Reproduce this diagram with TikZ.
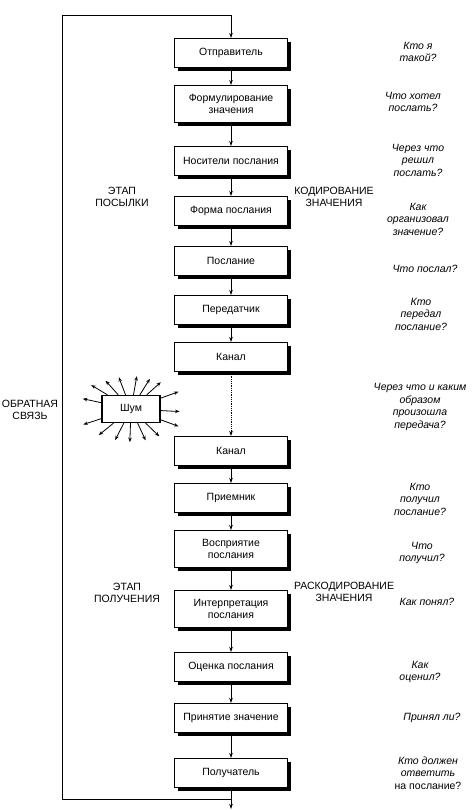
\documentclass[tikz,border=0pt]{standalone}
\usepackage{fontspec}
\setmainfont{Liberation Sans}
\usetikzlibrary{arrows.meta,shadows}
\tikzset{
  stage/.style ={rectangle, draw=black, line width=1pt, fill=white,
                 align=center, minimum width=113pt, minimum height=29pt,
                 font=\fontsize{10.5}{12.5}\selectfont,
                 drop shadow={shadow xshift=3.5pt, shadow yshift=-3.5pt,
                              fill=black, opacity=1}},
  tall/.style  ={stage, minimum height=37pt},
  noisebox/.style={rectangle, draw=black, line width=1.2pt, fill=white,
                 minimum width=58pt, minimum height=27pt,
                 font=\fontsize{10.5}{12.5}\selectfont},
  flow/.style  ={-{Stealth[length=5pt,width=3.5pt]}, line width=0.8pt},
  ray/.style   ={-{Stealth[length=4.5pt,width=3.5pt]}, line width=0.8pt},
  phase/.style ={align=center, font=\fontsize{10.5}{12}\selectfont},
  ask/.style   ={align=center, font=\fontsize{10.5}{12.5}\selectfont\itshape},
}
\begin{document}
\begin{tikzpicture}[x=1pt, y=1pt]
    \useasboundingbox (0,-810) rectangle (472,0);

    % main chain
    \node[stage] (s1)  at (231,-53)  {Отправитель};
    \node[tall]  (s2)  at (231,-104) {Формулирование\\значения};
    \node[stage] (s3)  at (231,-161) {Носители послания};
    \node[stage] (s4)  at (231,-211) {Форма послания};
    \node[stage] (s5)  at (231,-261) {Послание};
    \node[stage] (s6)  at (231,-310) {Передатчик};
    \node[stage] (s7)  at (231,-357) {Канал};
    \node[stage] (s8)  at (231,-451) {Канал};
    \node[stage] (s9)  at (231,-498) {Приемник};
    \node[tall]  (s10) at (231,-549) {Восприятие\\послания};
    \node[tall]  (s11) at (231,-609) {Интерпретация\\послания};
    \node[stage] (s12) at (231,-667) {Оценка послания};
    \node[stage] (s13) at (231,-718) {Принятие значение};
    \node[stage] (s14) at (231,-773) {Получатель};

    \foreach \a/\b in {s1/s2,s2/s3,s3/s4,s4/s5,s5/s6,s6/s7,
                       s8/s9,s9/s10,s10/s11,s11/s12,s12/s13,s13/s14}
        \draw[flow] (\a) -- (\b);
    \draw[flow, densely dotted] (s7) -- (s8);

    % feedback loop
    \coordinate (out)     at (231,-809);
    \coordinate (fbstart) at (231,-799);
    \coordinate (fbcorner) at (62,-15);
    \draw[flow] (s14) -- (out);
    \draw[flow] (fbstart) -| (fbcorner) -| (s1.north);

    % noise
    \node[noisebox] (noise) at (131,-409) {Шум};
    \foreach \a in {149,132,111,80,58,42,20,-3,-20,-44,-65,-92,-117,-141,-162,168}
        \draw[ray] (noise.\a) -- ++(\a:19pt);

    % phases
    \node[phase] (fbl)  at (30,-410)  {ОБРАТНАЯ\\СВЯЗЬ};
    \node[phase] (send) at (122,-197) {ЭТАП\\ПОСЫЛКИ};
    \node[phase] (enc)  at (334,-197) {КОДИРОВАНИЕ\\ЗНАЧЕНИЯ};
    \node[phase] (recv) at (127,-593) {ЭТАП\\ПОЛУЧЕНИЯ};
    \node[phase] (dec)  at (344,-592) {РАСКОДИРОВАНИЕ\\ЗНАЧЕНИЯ};

    % questions
    \node[ask] (q1)  at (418,-52)  {Кто я\\такой?};
    \node[ask] (q2)  at (413,-102) {Что хотел\\послать?};
    \node[ask] (q3)  at (418,-160) {Через что\\решил\\послать?};
    \node[ask] (q4)  at (418,-219) {Как\\организовал\\значение?};
    \node[ask] (q5)  at (425,-269) {Что послал?};
    \node[ask] (q6)  at (421,-314) {Кто\\передал\\послание?};
    \node[ask] (q7)  at (420,-407) {Через что и каким\\образом\\произошла\\передача?};
    \node[ask] (q8)  at (420,-499) {Кто\\получил\\послание?};
    \node[ask] (q9)  at (422,-553) {Что\\получил?};
    \node[ask] (q10) at (427,-602) {Как понял?};
    \node[ask] (q11) at (420,-672) {Как\\оценил?};
    \node[ask] (q12) at (432,-718) {Принял ли?};
    \node[ask] (q13) at (428,-773) {Кто должен\\ответить\\\upshape на послание?};
\end{tikzpicture}
\end{document}
